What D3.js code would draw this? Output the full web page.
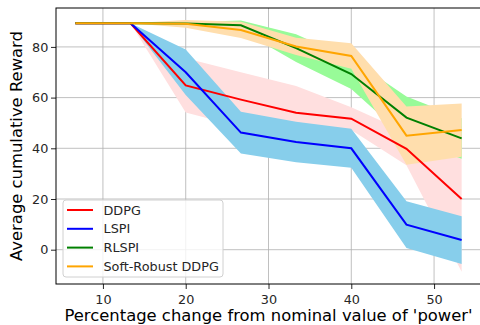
<!DOCTYPE html>
<html>
<head>
<meta charset="utf-8">
<script src="https://cdn.jsdelivr.net/npm/d3@7"></script>
<style>
  body { margin: 0; background: #fff; }
  text { font-family: "DejaVu Sans", sans-serif; }
</style>
</head>
<body>
<script>
// x positions (percentage change)
const pct = [6.667, 13.333, 20, 26.667, 33.333, 40, 46.667, 53.333];

// mean reward and spread for each method
const ddpgMean = [89.3, 89.3, 64.8, 59.2, 54.0, 51.7, 39.8, 20.0];
const ddpgStd = [0, 0, 10.7, 10.8, 10.6, 4.5, 6.5, 28.7];
const lspiMean = [89.3, 89.3, 70.0, 46.2, 42.5, 40.0, 9.9, 3.8];
const lspiStd = [0, 0, 9.0, 8.2, 8.0, 7.7, 9.2, 9.4];
const rlspiMean = [89.3, 89.3, 89.2, 88.5, 79.5, 69.3, 52.1, 43.9];
const rlspiStd = [0, 0, 0.5, 1.9, 5.5, 5.9, 8.3, 8.0];
const srMean = [89.3, 89.3, 89.1, 86.7, 80.2, 76.4, 45.0, 47.2];
const srStd = [0, 0, 1.5, 3.2, 3.4, 5.0, 11.5, 10.5];

const xTicks = [10, 20, 30, 40, 50];
const yTicks = [0, 20, 40, 60, 80];

const series = [
    { name: "DDPG", mean: ddpgMean, std: ddpgStd, line: "red", band: "#ffdfdf" },
    { name: "LSPI", mean: lspiMean, std: lspiStd, line: "blue", band: "#87ceeb" },
    { name: "RLSPI", mean: rlspiMean, std: rlspiStd, line: "green", band: "#98fb98" },
    { name: "Soft-Robust DDPG", mean: srMean, std: srStd, line: "orange", band: "#ffdead" }
];

const width = 480;
const height = 325;
const margin = { top: 8, right: -1, bottom: 41, left: 56 };

const x = d3.scaleLinear()
    .domain([4.33, 55.67])
    .range([margin.left, width - margin.right]);

const y = d3.scaleLinear()
    .domain([-13.53, 95.35])
    .range([height - margin.bottom, margin.top]);

const svg = d3.select("body")
    .append("svg")
    .attr("width", width)
    .attr("height", height);

// grid
svg.append("g")
    .selectAll("line")
    .data(xTicks)
    .enter()
    .append("line")
    .attr("x1", d => x(d))
    .attr("x2", d => x(d))
    .attr("y1", margin.top)
    .attr("y2", height - margin.bottom)
    .attr("stroke", "#b0b0b0")
    .attr("stroke-width", 0.8);

svg.append("g")
    .selectAll("line")
    .data(yTicks)
    .enter()
    .append("line")
    .attr("x1", margin.left)
    .attr("x2", width - margin.right)
    .attr("y1", d => y(d))
    .attr("y2", d => y(d))
    .attr("stroke", "#b0b0b0")
    .attr("stroke-width", 0.8);

// bands first, then lines on top
const area = d3.area()
    .x((d, i) => x(pct[i]))
    .y0(d => y(d.lo))
    .y1(d => y(d.hi));

const line = d3.line()
    .x((d, i) => x(pct[i]))
    .y(d => y(d));

series.forEach(s => {
    const band = s.mean.map((m, i) => ({ lo: m - s.std[i], hi: m + s.std[i] }));
    svg.append("path")
        .datum(band)
        .attr("d", area)
        .attr("fill", s.band);
});

series.forEach(s => {
    svg.append("path")
        .datum(s.mean)
        .attr("d", line)
        .attr("fill", "none")
        .attr("stroke", s.line)
        .attr("stroke-width", 2);
});

// axes
const xAxis = d3.axisBottom(x).tickValues(xTicks).tickSize(5).tickPadding(6);
const yAxis = d3.axisLeft(y).tickValues(yTicks).tickSize(5).tickPadding(2.7);

const xg = svg.append("g")
    .attr("transform", `translate(0, ${height - margin.bottom})`)
    .call(xAxis);
const yg = svg.append("g")
    .attr("transform", `translate(${margin.left}, 0)`)
    .call(yAxis);

[xg, yg].forEach(g => {
    g.select(".domain").remove();
    g.selectAll("text")
        .attr("font-family", "DejaVu Sans")
        .attr("font-size", 12.8)
        .attr("fill", "#262626");
    g.selectAll("line").attr("stroke", "#262626");
});

// frame
svg.append("rect")
    .attr("x", margin.left)
    .attr("y", margin.top)
    .attr("width", width - margin.right - margin.left)
    .attr("height", height - margin.bottom - margin.top)
    .attr("fill", "none")
    .attr("stroke", "#000")
    .attr("stroke-width", 1);

// axis labels
svg.append("text")
    .attr("x", (margin.left + width - margin.right) / 2)
    .attr("y", 321)
    .attr("text-anchor", "middle")
    .attr("font-size", 16.4)
    .text("Percentage change from nominal value of 'power'");

svg.append("text")
    .attr("transform", `translate(22, ${(margin.top + height - margin.bottom) / 2}) rotate(-90)`)
    .attr("text-anchor", "middle")
    .attr("font-size", 16.4)
    .text("Average cumulative Reward");

// legend
const legend = svg.append("g").attr("transform", "translate(63, 200)");

legend.append("rect")
    .attr("width", 160)
    .attr("height", 77)
    .attr("rx", 3)
    .attr("fill", "#fff")
    .attr("fill-opacity", 0.8)
    .attr("stroke", "#d0d0d0")
    .attr("stroke-width", 1);

const items = legend.selectAll(".item")
    .data(series)
    .enter()
    .append("g")
    .attr("class", "item")
    .attr("transform", (d, i) => `translate(0, ${10 + i * 18.8})`);

items.append("line")
    .attr("x1", 4)
    .attr("x2", 30)
    .attr("stroke", d => d.line)
    .attr("stroke-width", 2);

items.append("text")
    .attr("x", 40.5)
    .attr("y", 4.5)
    .attr("font-size", 12.8)
    .attr("fill", "#262626")
    .text(d => d.name);
</script>
</body>
</html>
